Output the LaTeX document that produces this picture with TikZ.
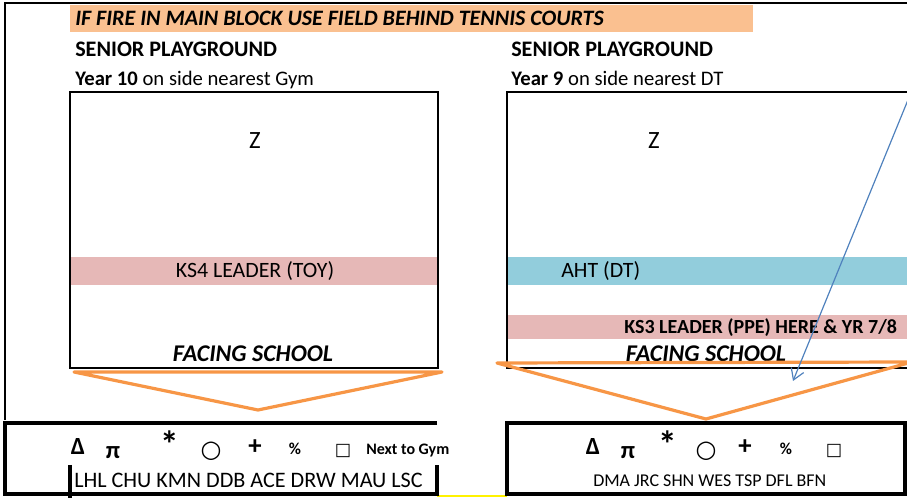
\documentclass[tikz,border=0pt]{standalone}
\usepackage{fontspec}
\setmainfont{Carlito}
\newfontfamily\symfont{DejaVu Sans}
\usetikzlibrary{arrows.meta}
\definecolor{banner}{HTML}{FAC090}
\definecolor{pinkband}{HTML}{E6B8B7}
\definecolor{cyanband}{HTML}{92CDDC}
\definecolor{orangeline}{HTML}{F79646}
\definecolor{bluearrow}{HTML}{4F81BD}
\tikzset{
  txt/.style={inner sep=0pt, anchor=base west, font=\fontsize{16.4}{18}\selectfont},
  ctxt/.style={inner sep=0pt, anchor=base, font=\fontsize{16.4}{18}\selectfont},
  sym/.style={inner sep=0pt, anchor=base, font=\fontsize{18.5}{20}\selectfont\bfseries},
  playbox/.style={draw=black, line width=1.5pt},
  tablebox/.style={draw=black, line width=2.6pt},
  frameline/.style={draw=black, line width=1.2pt},
  funnel/.style={draw=orangeline, line width=2.4pt, line join=round},
}
\begin{document}
\begin{tikzpicture}[x=0.75pt,y=-0.75pt]
\useasboundingbox (0,0) rectangle (907,498);
\clip (0,0) rectangle (907,498);
% outer frame
\draw[frameline] (5,420) -- (5,3) -- (910,3);
% banner
\fill[banner] (70,5) rectangle (753,32);
\node[txt, font=\fontsize{16.5}{18}\selectfont\bfseries\itshape] (banner) at (75,26) {IF FIRE IN MAIN BLOCK USE FIELD BEHIND TENNIS COURTS};
% headings
\node[txt, font=\fontsize{16.6}{18}\selectfont\bfseries] (spL) at (75,57) {SENIOR PLAYGROUND};
\node[txt, font=\fontsize{15.5}{18}\selectfont] (yrL) at (75,86) {\textbf{Year 10} on side nearest Gym};
\node[txt, font=\fontsize{16.6}{18}\selectfont\bfseries] (spR) at (511,57) {SENIOR PLAYGROUND};
\node[txt, font=\fontsize{15.5}{18}\selectfont] (yrR) at (511,86) {\textbf{Year 9} on side nearest DT};
% left playground
\fill[pinkband] (70,257) rectangle (438,285);
\draw[playbox] (70,92) rectangle (438,368);
\node[ctxt, font=\fontsize{18.6}{20}\selectfont] (zL) at (255,149) {Z};
\node[ctxt] (ks4) at (255,278) {KS4 LEADER (TOY)};
\node[ctxt, font=\fontsize{18}{20}\selectfont\bfseries\itshape] (facL) at (253,362) {FACING SCHOOL};
% right playground
\fill[cyanband] (507,257) rectangle (910,285);
\fill[pinkband] (507,315) rectangle (910,339);
\draw[playbox] (910,92) -- (507,92) -- (507,368) -- (910,368);
\node[ctxt, font=\fontsize{18.6}{20}\selectfont] (zR) at (654,149) {Z};
\node[txt] (aht) at (561,278) {AHT (DT)};
\node[txt, font=\fontsize{15}{17}\selectfont\bfseries] (ks3) at (624,334) {KS3 LEADER (PPE) HERE \& YR 7/8};
\node[ctxt, font=\fontsize{18}{20}\selectfont\bfseries\itshape] (facR) at (706,362) {FACING SCHOOL};
% funnels
\coordinate (fL1) at (74,372);
\coordinate (fL2) at (442,372);
\coordinate (fLa) at (258,410);
\draw[funnel] (fL1) -- (fL2) -- (fLa) -- cycle;
\coordinate (fR1) at (497,363);
\coordinate (fR2) at (912,362);
\coordinate (fRa) at (706,419);
\draw[funnel] (fR1) -- (fR2) -- (fRa) -- cycle;
% blue arrow
\coordinate (arS) at (910,95);
\coordinate (arE) at (793,381);
\draw[bluearrow, line width=0.9pt, -{Straight Barb[length=8pt,width=10pt]}] (arS) -- (arE);
% bottom left table
\draw[yellow, line width=2pt] (437,496) -- (507,496);
\draw[tablebox] (437,423) -- (5,423) -- (5,494) -- (437,494) -- (437,465);
\draw[tablebox] (70,465) -- (70,498);
\node[sym] (dL) at (78,455) {Δ};
\node[sym] (pL) at (113,459) {π};
\node[sym, font=\fontsize{28}{30}\selectfont\bfseries] (aL) at (170,458) {*};
\node[sym, font=\fontsize{18}{20}\selectfont\symfont] (oL) at (211,458) {○};
\node[sym, font=\fontsize{20}{22}\selectfont\bfseries] (plL) at (255,455) {+};
\node[sym, font=\fontsize{12.5}{14}\selectfont\bfseries] (pcL) at (295,455) {\%};
\node[sym, font=\fontsize{13}{15}\selectfont\symfont] (sqL) at (343,456) {□};
\node[txt, font=\fontsize{12}{14}\selectfont\bfseries] (gym) at (366,455) {Next to Gym};
\node[txt, font=\fontsize{16.6}{18}\selectfont] (namesL) at (74,488) {LHL CHU KMN DDB ACE DRW MAU LSC};
% bottom right table
\draw[tablebox] (507,423) rectangle (905,494);
\node[sym] (dR) at (593,455) {Δ};
\node[sym] (pR) at (628,459) {π};
\node[sym, font=\fontsize{28}{30}\selectfont\bfseries] (aR) at (668,458) {*};
\node[sym, font=\fontsize{18}{20}\selectfont\symfont] (oR) at (706,458) {○};
\node[sym, font=\fontsize{20}{22}\selectfont\bfseries] (plR) at (745,455) {+};
\node[sym, font=\fontsize{12.5}{14}\selectfont\bfseries] (pcR) at (786,455) {\%};
\node[sym, font=\fontsize{13}{15}\selectfont\symfont] (sqR) at (834,456) {□};
\node[txt, font=\fontsize{13.5}{15}\selectfont] (namesR) at (593,487) {DMA JRC SHN WES TSP DFL BFN};
\end{tikzpicture}
\end{document}
